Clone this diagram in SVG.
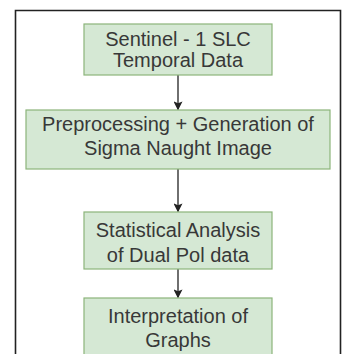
<svg xmlns="http://www.w3.org/2000/svg" width="342" height="354" viewBox="0 0 342 354">
<defs>
<style>
.box{fill:#d5e8d4;stroke:#8cb47a;stroke-width:1.2}
.t{font-family:"Liberation Sans",Arial,sans-serif;font-size:20px;fill:#383838;text-anchor:middle}
.c{stroke:#222;stroke-width:1.3;fill:none}
</style>
<marker id="ah" viewBox="0 0 10 10" refX="9" refY="5" markerWidth="9" markerHeight="9" markerUnits="userSpaceOnUse" orient="auto">
<path d="M0,0 L10,5 L0,10 L2,5 Z" fill="#222"/>
</marker>
</defs>
<rect x="0" y="0" width="342" height="354" fill="#fff"/>
<path d="M15.5,360 V10.5 H340.5 V360" fill="none" stroke="#222" stroke-width="1.6"/>
<g id="connectors">
<line class="c" x1="178" y1="75" x2="178" y2="109.5" marker-end="url(#ah)"/>
<line class="c" x1="178" y1="169" x2="178" y2="211.5" marker-end="url(#ah)"/>
<line class="c" x1="178" y1="269" x2="178" y2="297.5" marker-end="url(#ah)"/>
</g>
<g id="n1">
<rect class="box" x="84" y="24" width="188" height="51"/>
<text class="t" x="178" y="45.5">Sentinel - 1 SLC</text>
<text class="t" x="178" y="67">Temporal Data</text>
</g>
<g id="n2">
<rect class="box" x="26" y="110" width="304" height="59"/>
<text class="t" x="178" y="131">Preprocessing + Generation of</text>
<text class="t" x="178" y="155">Sigma Naught Image</text>
</g>
<g id="n3">
<rect class="box" x="84" y="212" width="188" height="57"/>
<text class="t" x="178" y="236.5">Statistical Analysis</text>
<text class="t" x="178" y="261.5">of Dual Pol data</text>
</g>
<g id="n4">
<rect class="box" x="84" y="298" width="188" height="70"/>
<text class="t" x="178" y="322.5">Interpretation of</text>
<text class="t" x="178" y="346.5">Graphs</text>
</g>
</svg>
